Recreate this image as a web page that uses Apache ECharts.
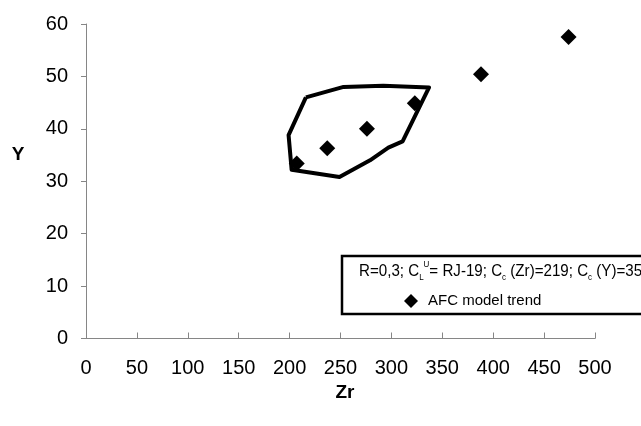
<!DOCTYPE html>
<html>
<head>
<meta charset="utf-8">
<script src="https://cdn.jsdelivr.net/npm/echarts@6/dist/echarts.min.js"></script>
<style>
  html, body { margin: 0; padding: 0; background: #fff; }
  #chart { width: 641px; height: 426px; }
</style>
</head>
<body>
<div id="chart"></div>
<script>
// AFC model trend points (Zr, Y)
var trendZr = [207, 237, 276, 323, 388, 474];
var trendY = [33.4, 36.3, 40.0, 44.9, 50.4, 57.5];

// envelope polygon vertices (Zr, Y), closed
var envZr = [216, 253, 292, 337, 311, 297, 279, 249, 202, 199, 216];
var envY = [46.0, 48.0, 48.2, 47.9, 37.6, 36.4, 34.0, 30.8, 32.2, 38.8, 46.0];

var xTicks = [0, 50, 100, 150, 200, 250, 300, 350, 400, 450, 500];
var yTicks = [0, 10, 20, 30, 40, 50, 60];

var legendHeader = 'R=0,3; C{s|L}{u|U}= RJ-19; C{s|c} (Zr)=219; C{s|c} (Y)=35';

var sans = '"Liberation Sans", Arial, sans-serif';
var axisGray = '#868686';

function pairs(xs, ys) {
    var out = [];
    for (var i = 0; i < xs.length; i++) {
        out.push([xs[i], ys[i]]);
    }
    return out;
}

var myChart = echarts.init(document.getElementById('chart'));
var option = {
    backgroundColor: '#fff',
    animation: false,
    textStyle: { fontFamily: sans },
    grid: { left: 86, right: 46, top: 24, bottom: 87.5 },
    xAxis: {
        type: 'value',
        min: xTicks[0],
        max: xTicks[xTicks.length - 1],
        interval: xTicks[1] - xTicks[0],
        name: 'Zr',
        nameLocation: 'middle',
        nameGap: 44,
        nameTextStyle: { fontSize: 19, fontWeight: 'bold', fontFamily: sans, color: '#000', padding: [0, 0, 0, 9] },
        axisLine: { lineStyle: { color: axisGray, width: 1 } },
        axisTick: { inside: true, length: 6, lineStyle: { color: axisGray } },
        axisLabel: { fontSize: 20, fontFamily: sans, color: '#000', margin: 20 },
        splitLine: { show: false }
    },
    yAxis: {
        type: 'value',
        min: yTicks[0],
        max: yTicks[yTicks.length - 1],
        interval: yTicks[1] - yTicks[0],
        axisLine: { show: true, lineStyle: { color: axisGray, width: 1 } },
        axisTick: { show: true, length: 5, lineStyle: { color: axisGray } },
        axisLabel: { fontSize: 20, fontFamily: sans, color: '#000', margin: 18 },
        splitLine: { show: false }
    },
    graphic: [
        {
            type: 'text',
            x: 18,
            y: 155,
            style: {
                text: 'Y',
                fill: '#000',
                fontSize: 19,
                fontWeight: 'bold',
                fontFamily: sans,
                align: 'center',
                verticalAlign: 'middle'
            }
        },
        {
            type: 'rect',
            shape: { x: 342, y: 256, width: 330, height: 58 },
            style: { fill: '#fff', stroke: '#000', lineWidth: 2.5 },
            z: 10
        },
        {
            type: 'text',
            x: 359,
            y: 271.5,
            scaleX: 0.89,
            z: 11,
            style: {
                text: legendHeader,
                fill: '#000',
                fontSize: 17,
                fontFamily: sans,
                lineHeight: 22,
                verticalAlign: 'middle',
                rich: {
                    s: { fontSize: 9, fontFamily: sans, lineHeight: 9, verticalAlign: 'bottom', fill: '#000' },
                    u: { fontSize: 9, fontFamily: sans, lineHeight: 9, verticalAlign: 'top', fill: '#000' }
                }
            }
        }
    ],
    legend: {
        data: ['AFC model trend'],
        left: 404,
        top: 291,
        padding: 0,
        z: 12,
        itemWidth: 14,
        itemHeight: 14,
        icon: 'diamond',
        textStyle: { fontSize: 15, fontFamily: sans, color: '#000', lineHeight: 20, padding: [0, 0, 0, 5] }
    },
    series: [
        {
            name: 'envelope',
            type: 'line',
            data: pairs(envZr, envY),
            symbol: 'none',
            lineStyle: { color: '#000', width: 4, join: 'round' },
            z: 2
        },
        {
            name: 'AFC model trend',
            type: 'scatter',
            data: pairs(trendZr, trendY),
            symbol: 'diamond',
            symbolSize: 16,
            itemStyle: { color: '#000', opacity: 1 },
            z: 3
        }
    ]
};
myChart.setOption(option);
</script>
</body>
</html>
